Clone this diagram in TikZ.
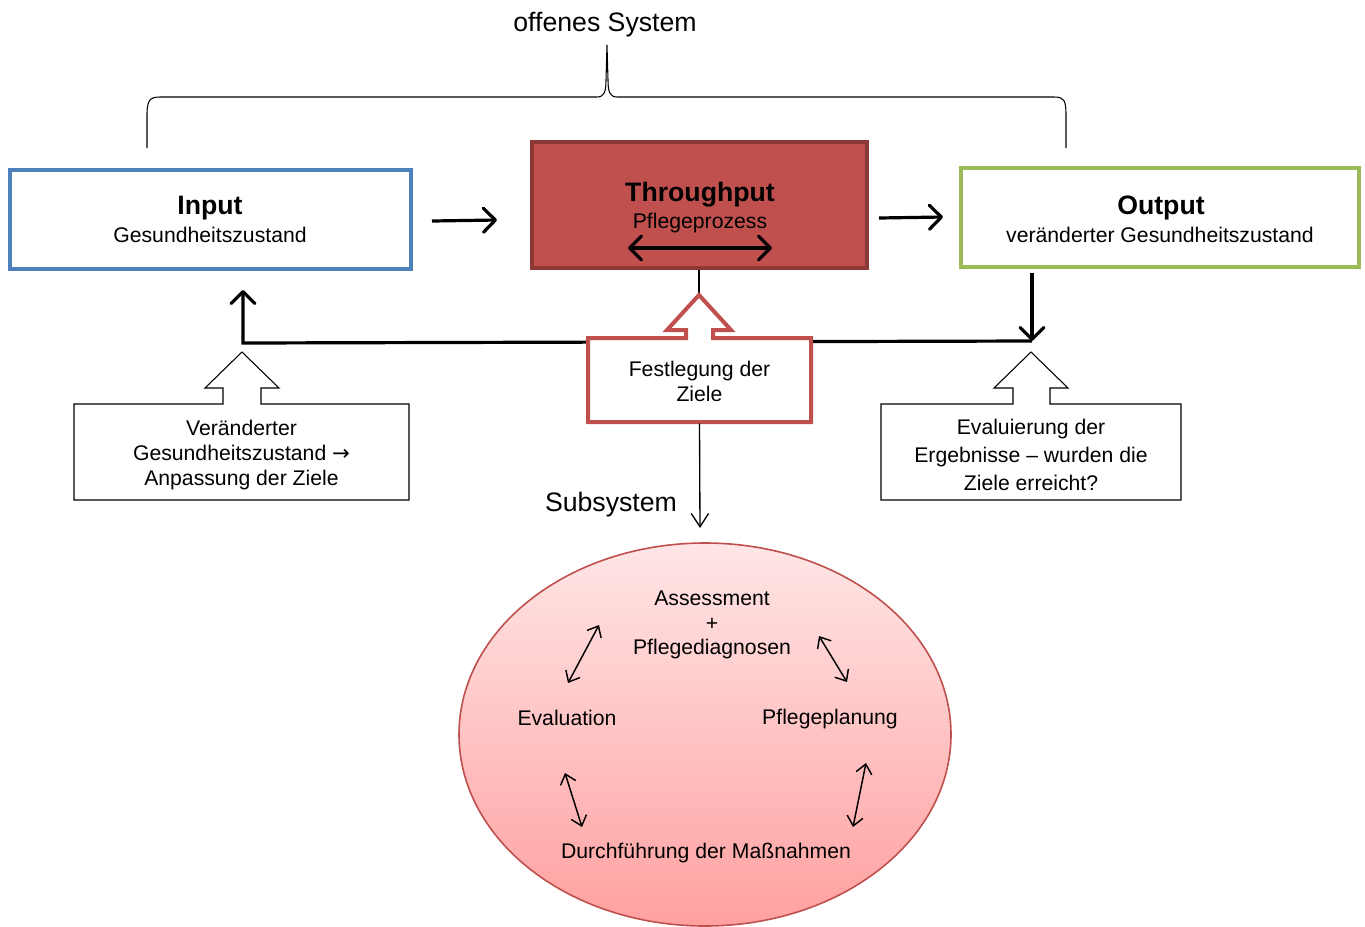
\documentclass[tikz,border=0pt]{standalone}
\usepackage{fontspec}
\setmainfont{Liberation Sans}
\newfontfamily\arrowfont{DejaVu Sans}
\usetikzlibrary{arrows.meta,shapes.geometric}
\definecolor{inblue}{HTML}{4F81BD}
\definecolor{tpred}{HTML}{C0504D}
\definecolor{tpdark}{HTML}{8C3836}
\definecolor{outgreen}{HTML}{9BBB59}
\definecolor{elltop}{HTML}{FFE6E6}
\definecolor{ellbot}{HTML}{FFA0A0}
\begin{document}
\begin{tikzpicture}[x=0.75pt,y=-0.75pt,
  txt/.style={font=\fontsize{15.9}{18.75}\selectfont, align=center, inner sep=0pt},
  ttl/.style={font=\bfseries\fontsize{20}{24}\selectfont, inner sep=0pt},
  big/.style={font=\fontsize{20}{24}\selectfont, inner sep=0pt},
  mainbox/.style={draw, line width=3pt, inner sep=0pt},
  thk/.style={line width=2.4pt, -{Straight Barb[length=9pt,width=18pt,round]}},
  thkboth/.style={line width=2.4pt, {Straight Barb[length=9pt,width=18pt,round]}-{Straight Barb[length=9pt,width=18pt,round]}},
  thinboth/.style={line width=1.1pt, {Straight Barb[length=7pt,width=12pt]}-{Straight Barb[length=7pt,width=12pt]}},
  callout/.style={draw, line width=0.8pt, fill=white},
]
\useasboundingbox (0,0) rectangle (1365,926);

% brace
\draw[line width=0.8pt] (147,148) -- (147,115) .. controls (147,100) and (150,97) .. (160,97)
  -- (597,97) .. controls (604,97) and (606,92) .. (606,80) -- (607,45) -- (608,80)
  .. controls (608,92) and (610,97) .. (617,97) -- (1054,97)
  .. controls (1064,97) and (1066,100) .. (1066,115) -- (1066,148);
\node[big, anchor=base] (sys) at (605,31) {offenes System};

% main boxes
\node[mainbox, draw=inblue, fill=white, minimum width=300.75pt, minimum height=74.25pt] (in) at (210.5,219.5) {};
\node[mainbox, draw=tpdark, fill=tpred, minimum width=251.25pt, minimum height=94.5pt] (tp) at (699,205) {};
\node[mainbox, draw=outgreen, fill=white, minimum width=298.5pt, minimum height=74.25pt] (out) at (1160,217.5) {};

\node[ttl, anchor=base] (inT) at (210,214) {Input};
\node[txt, anchor=base] (inS) at (210,242) {Gesundheitszustand};
\node[ttl, anchor=base] (tpT) at (700,201) {Throughput};
\node[txt, anchor=base] (tpS) at (700,228) {Pflegeprozess};
\node[ttl, anchor=base] (outT) at (1161,214) {Output};
\node[txt, anchor=base] (outS) at (1160,242) {veränderter Gesundheitszustand};

% arrows between main boxes
\coordinate (a1s) at (432,221); \coordinate (a1e) at (497,220);
\draw[thk] (a1s) -- (a1e);
\coordinate (a2s) at (879,218); \coordinate (a2e) at (943,217);
\draw[thk] (a2s) -- (a2e);
\coordinate (dl) at (628,248); \coordinate (dr) at (772,248);
\draw[thkboth] (dl) -- (dr);

% feedback line
\coordinate (fbL) at (243,343); \coordinate (fbR) at (1032,341);
\coordinate (inTip) at (243,290); \coordinate (outSt) at (1032,273);
\draw[thk] (fbR) -- (fbL) -- (inTip);
\draw[thk] (outSt) -- (fbR);

% throughput to callout
\coordinate (fTip) at (699,295);
\draw[line width=1pt] (tp.south) -- (fTip);
\draw[line width=3pt, draw=tpred, fill=white] (588,422) -- (588,338) -- (686,338) -- (686,330) -- (667,330)
  -- (fTip) -- (731,330) -- (713,330) -- (713,338) -- (811,338) -- (811,422) -- cycle;
\node[txt, minimum width=168pt, minimum height=63pt] (fest) at (699.5,381) {Festlegung der\\Ziele};

% left callout
\coordinate (lTip) at (242,352);
\draw[callout] (74,500) -- (74,404) -- (223,404) -- (223,388) -- (205,388) -- (lTip) -- (279,388)
  -- (261,388) -- (261,404) -- (409,404) -- (409,500) -- cycle;
\node[txt] (ver) at (241.5,455) {Veränderter\\Gesundheitszustand {\arrowfont →}\\Anpassung der Ziele};

% right callout
\coordinate (rTip) at (1031,352);
\draw[callout] (881,500) -- (881,404) -- (1013,404) -- (1013,388) -- (994,388) -- (rTip) -- (1068,388)
  -- (1050,388) -- (1050,404) -- (1181,404) -- (1181,500) -- cycle;
\node[txt, font=\fontsize{15.9}{21}\selectfont] (eva) at (1031,455) {Evaluierung der\\Ergebnisse – wurden die\\Ziele erreicht?};

% subsystem
\coordinate (subTip) at (700,528);
\draw[line width=1pt, -{Straight Barb[length=10pt,width=13pt]}] (fest.south) -- (subTip);
\node[big, anchor=base] (subl) at (611,511) {Subsystem};

\node[ellipse, draw=tpred, line width=1.2pt, top color=elltop, bottom color=ellbot,
  minimum width=369pt, minimum height=287.25pt, inner sep=0pt] (ell) at (705,734.5) {};

\node[txt, font=\fontsize{15.9}{18.4}\selectfont] (ass) at (712,625) {Assessment\\+\\Pflegediagnosen};
\node[txt] (evl) at (567,718) {Evaluation};
\node[txt] (pp) at (830,719) {Pflegeplanung};
\node[txt] (durch) at (706,853) {Durchführung der Maßnahmen};

\coordinate (c1a) at (568,683); \coordinate (c1b) at (599,625);
\coordinate (c2a) at (819,636); \coordinate (c2b) at (847,682);
\coordinate (c3a) at (565,773); \coordinate (c3b) at (582,827);
\coordinate (c4a) at (866,763); \coordinate (c4b) at (853,827);
\draw[thinboth] (c1a) -- (c1b);
\draw[thinboth] (c2a) -- (c2b);
\draw[thinboth] (c3a) -- (c3b);
\draw[thinboth] (c4a) -- (c4b);
\end{tikzpicture}
\end{document}
